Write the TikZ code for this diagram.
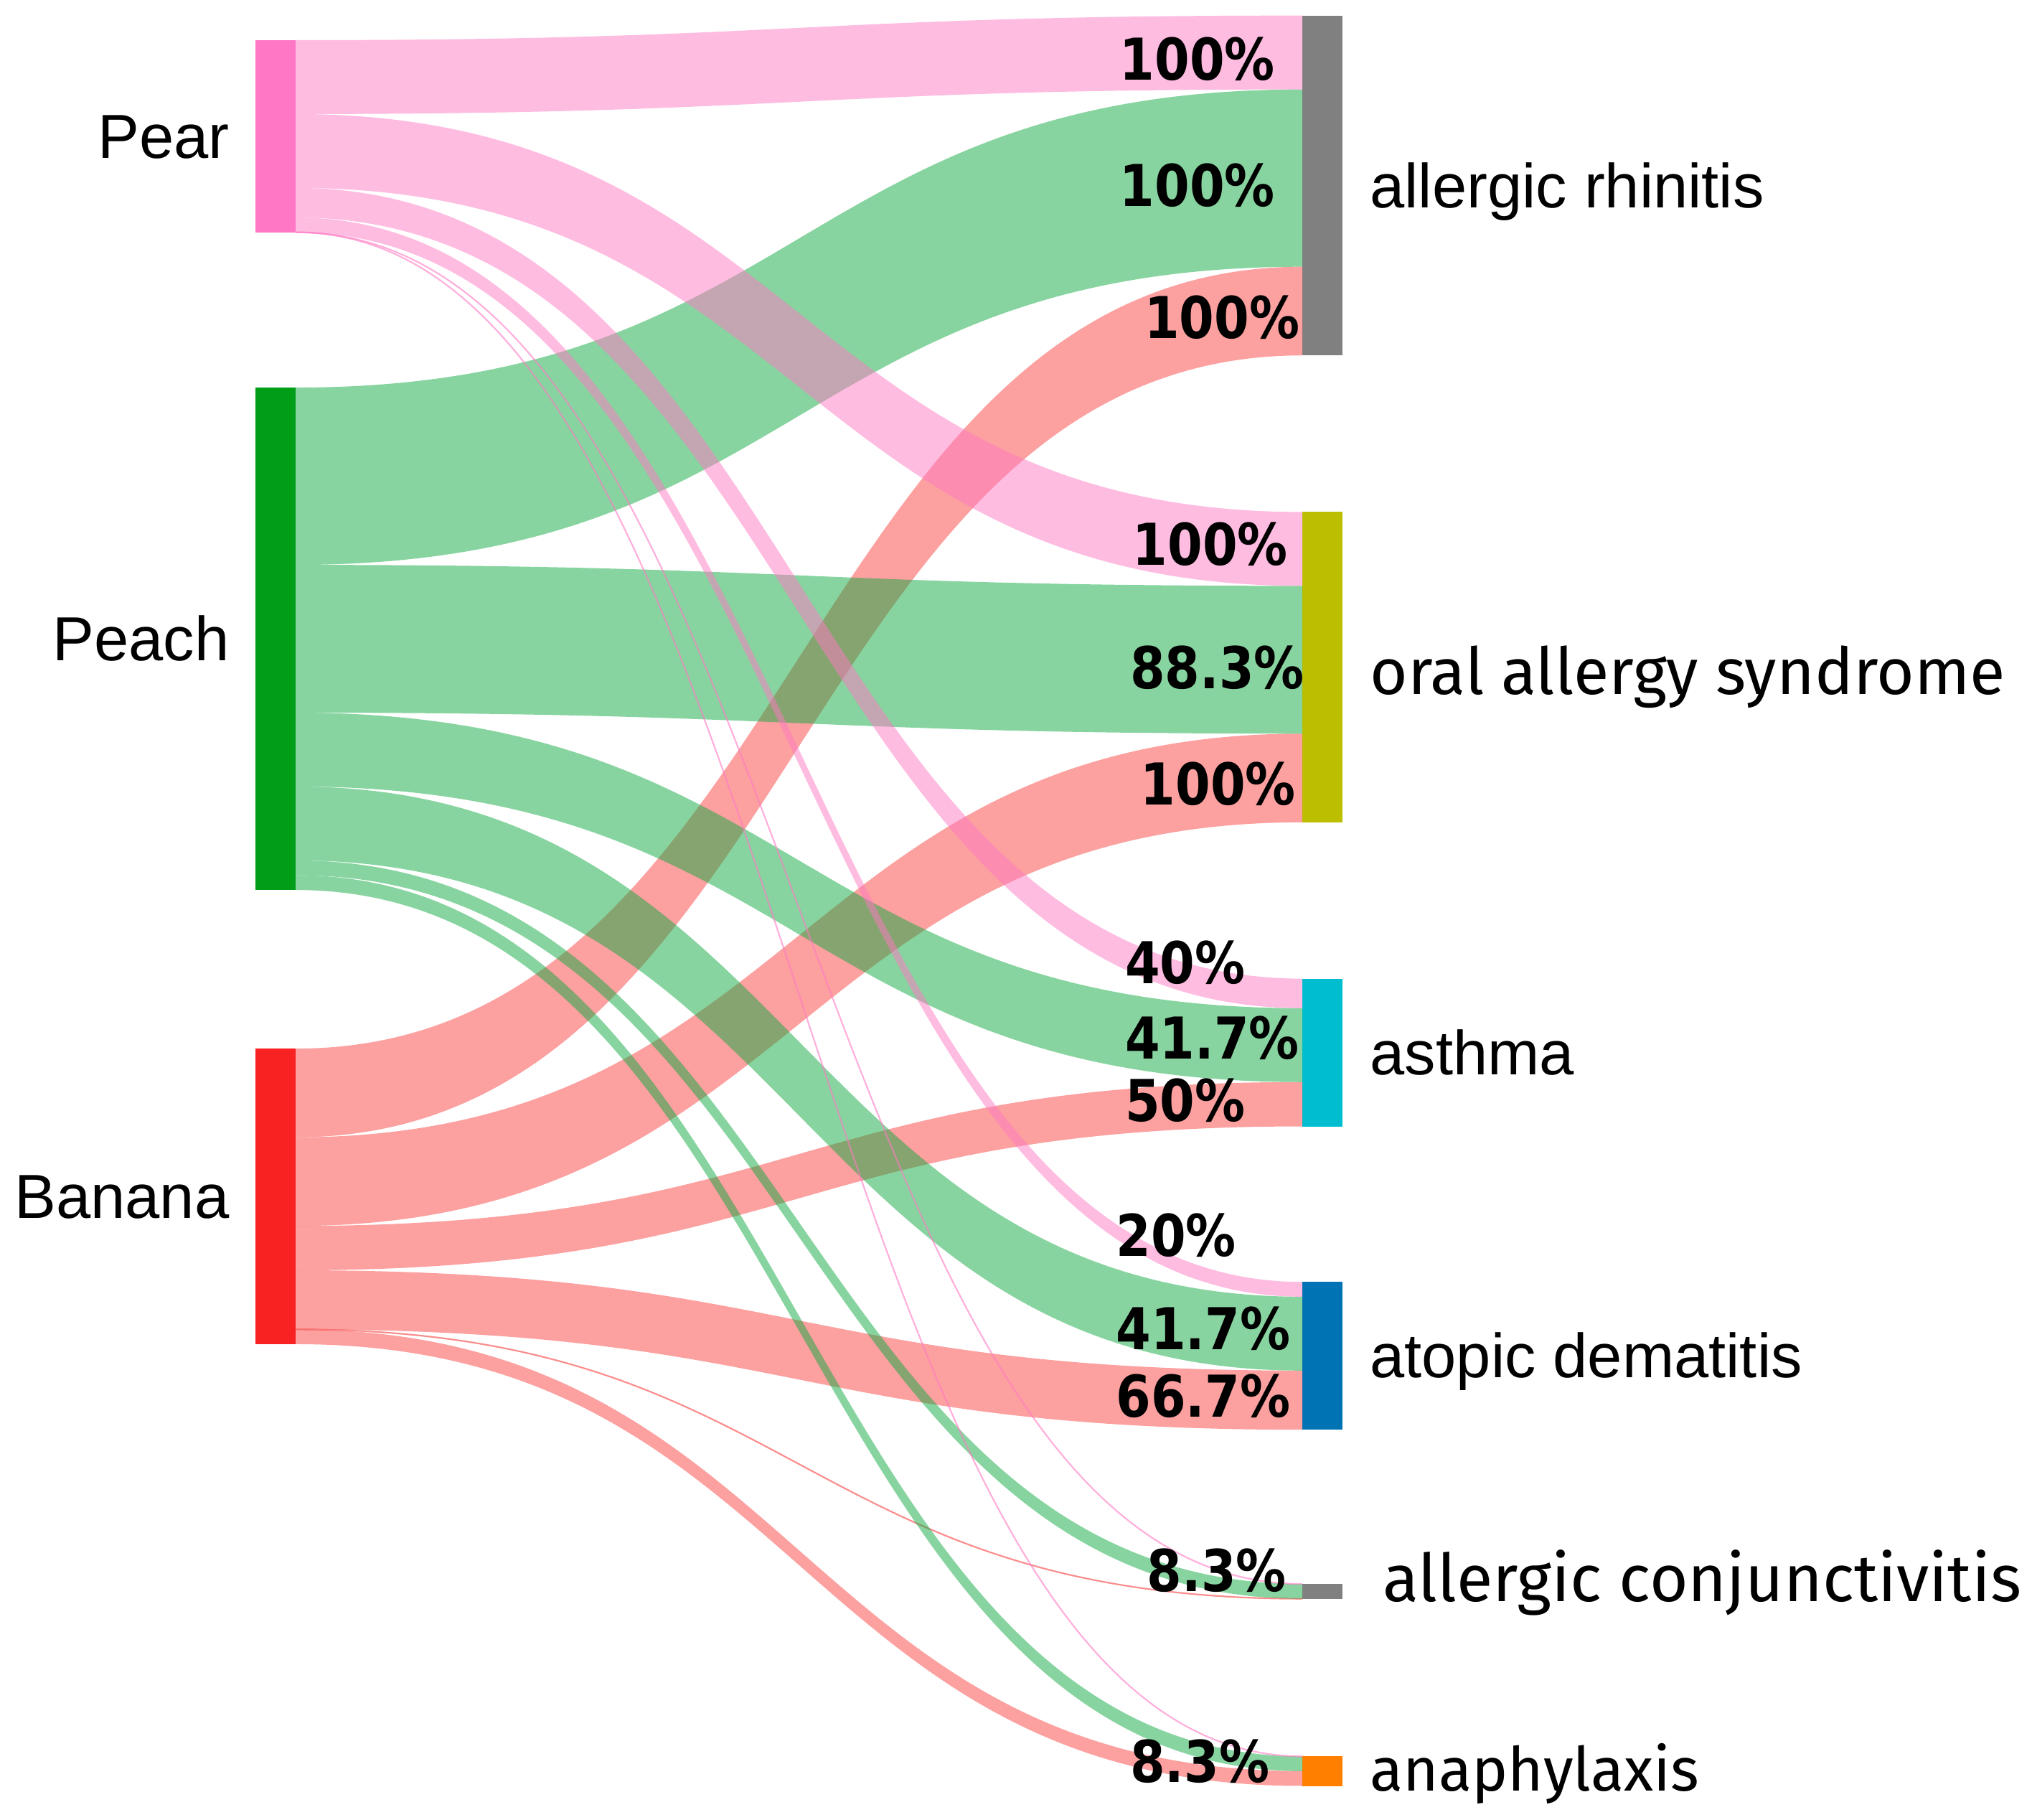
\documentclass[tikz,border=0pt]{standalone}
\usepackage{fontspec}
\setmainfont{Liberation Sans}
\newfontfamily\pctfont{DejaVu Sans}[FakeStretch=0.87]
\newfontfamily\aptfont{Fira Sans}
\usepackage{tikz}
\usetikzlibrary{positioning,calc}

\definecolor{pearc}{RGB}{255,119,197}
\definecolor{peachc}{RGB}{0,158,22}
\definecolor{bananac}{RGB}{248,34,34}
\definecolor{pearl}{RGB}{255,121,195}
\definecolor{peachl}{RGB}{17,169,65}
\definecolor{bananal}{RGB}{249,65,65}
\definecolor{grayc}{RGB}{128,128,128}
\definecolor{olivec}{RGB}{188,190,0}
\definecolor{cyanc}{RGB}{0,190,208}
\definecolor{bluec}{RGB}{0,115,180}
\definecolor{orangec}{RGB}{255,127,0}

\def\u{11.4pt}
\def\half{388.5pt}

% band from a source bar to a target bar: colour, source, offset, target, offset, width
\newcommand{\band}[6]{%
  \fill[#1, opacity=0.5] ([yshift=-#3*\u]#2.north east)
    .. controls +(\half,0) and +(-\half,0) .. ([yshift=-#5*\u]#4.north west)
    -- ([yshift=-(#5+#6)*\u]#4.north west)
    .. controls +(-\half,0) and +(\half,0) .. ([yshift=-(#3+#6)*\u]#2.north east)
    -- cycle;}
\newcommand{\thinband}[5]{%
  \draw[#1, opacity=0.6, line width=1.2pt] ([yshift=-#3*\u]#2.north east)
    .. controls +(\half,0) and +(-\half,0) .. ([yshift=-#5*\u]#4.north west);}

\tikzset{
  bar/.style={rectangle, inner sep=0pt, outer sep=0pt, minimum width=31pt, anchor=north west},
  lbl/.style={font=\fontsize{48}{56}\selectfont, inner sep=0pt},
  albl/.style={font=\aptfont\fontsize{#1}{54}\selectfont, inner sep=0pt, anchor=base west},
  pct/.style={font=\pctfont\bfseries\fontsize{44.5}{50}\selectfont, inner sep=0pt, anchor=base west}
}

\begin{document}
\begin{tikzpicture}[x=1pt, y=-1pt]

    \useasboundingbox (0,0) rectangle (1568,1404.1);

    \node[bar, fill=pearc, minimum height=13*\u] (pear) at (197,31) {};
    \node[bar, fill=peachc, minimum height=34*\u] (peach) at (197,299) {};
    \node[bar, fill=bananac, minimum height=20*\u] (banana) at (197,809) {};

    \node[bar, fill=grayc, minimum height=23*\u] (rhin) at (1005,12) {};
    \node[bar, fill=olivec, minimum height=21*\u] (oas) at (1005,395) {};
    \node[bar, fill=cyanc, minimum height=10*\u] (asth) at (1005,755) {};
    \node[bar, fill=bluec, minimum height=10*\u] (derm) at (1005,989) {};
    \node[bar, fill=grayc, minimum height=1*\u] (conj) at (1005,1222) {};
    \node[bar, fill=orangec, minimum height=2*\u] (anaph) at (1005,1355) {};

    \band{bananal}{banana}{0}{rhin}{17}{6}
    \band{bananal}{banana}{6}{oas}{15}{6}
    \band{bananal}{banana}{12}{asth}{7}{3}
    \band{bananal}{banana}{15}{derm}{6}{4}
    \thinband{bananal}{banana}{19}{conj}{1}
    \band{bananal}{banana}{19}{anaph}{1}{1}

    \band{peachl}{peach}{0}{rhin}{5}{12}
    \band{peachl}{peach}{12}{oas}{5}{10}
    \band{peachl}{peach}{22}{asth}{2}{5}
    \band{peachl}{peach}{27}{derm}{1}{5}
    \band{peachl}{peach}{32}{conj}{0}{1}
    \band{peachl}{peach}{33}{anaph}{0}{1}

    \band{pearl}{pear}{0}{rhin}{0}{5}
    \band{pearl}{pear}{5}{oas}{0}{5}
    \band{pearl}{pear}{10}{asth}{0}{2}
    \band{pearl}{pear}{12}{derm}{0}{1}
    \thinband{pearl}{pear}{13}{conj}{0}
    \thinband{pearl}{pear}{13}{anaph}{0}

    \node[lbl, anchor=base east] (pearlab) at ([xshift=-20pt,yshift=-17pt]pear.west) {Pear};
    \node[lbl, anchor=base east] (peachlab) at ([xshift=-20pt,yshift=-17pt]peach.west) {Peach};
    \node[lbl, anchor=base east] (bananalab) at ([xshift=-20pt,yshift=-17pt]banana.west) {Banana};

    \node[lbl, anchor=base west] (rhinlab) at ([xshift=21pt,yshift=-17pt]rhin.east) {allergic rhinitis};
    \node[albl=50] (oaslab) at ([xshift=21pt,yshift=-21pt]oas.east) {oral allergy syndrome};
    \node[lbl, anchor=base west] (asthlab) at ([xshift=21pt,yshift=-17pt]asth.east) {asthma};
    \node[lbl, anchor=base west] (dermlab) at ([xshift=21pt,yshift=-17pt]derm.east) {atopic dematitis};
    \node[albl=51] (conjlab) at ([xshift=31pt,yshift=-8pt]conj.east) {allergic conjunctivitis};
    \node[albl=47] (anaphlab) at ([xshift=21pt,yshift=-15pt]anaph.east) {anaphylaxis};

    \foreach \x/\y/\t [count=\i] in {864/62/100\%, 864/159/100\%, 883/261/100\%,
        874/436/100\%, 872/531/88.3\%, 880/621/100\%,
        868/759/40\%, 868/817/41.7\%, 868/865/50\%,
        861/969/20\%, 861/1041/41.7\%, 861/1093/66.7\%,
        885/1228/8.3\%, 872/1375/8.3\%}
      \node[pct] (pct\i) at (\x,\y) {\t};

\end{tikzpicture}
\end{document}
